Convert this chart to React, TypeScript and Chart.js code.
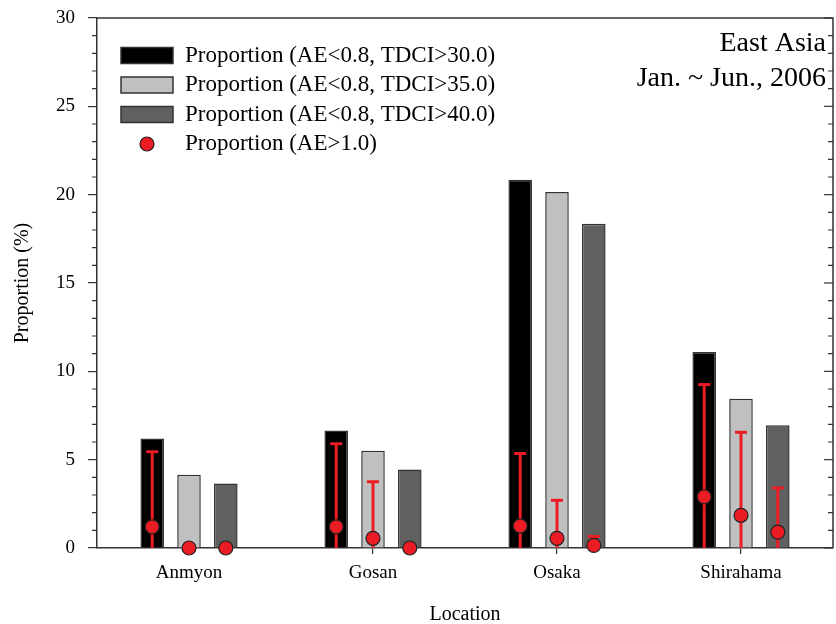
import React, { useEffect, useRef } from "react";
import { Chart, registerables } from "chart.js";

Chart.register(...registerables);

const categories = ["Anmyon", "Gosan", "Osaka", "Shirahama"];
const tdci30 = [6.2, 6.65, 20.85, 11.1];
const tdci35 = [4.15, 5.5, 20.15, 8.45];
const tdci40 = [3.65, 4.45, 18.35, 6.95];
const ae30 = [1.2, 1.2, 1.25, 2.9];
const ae30Err = [4.25, 4.7, 4.1, 6.35];
const ae35 = [0, 0.55, 0.55, 1.85];
const ae35Err = [0, 3.2, 2.15, 4.7];
const ae40 = [0, 0, 0.15, 0.9];
const ae40Err = [0, 0, 0.5, 2.5];
const yTicks = [0, 5, 10, 15, 20, 25, 30];
const legendLabels = [
  "Proportion (AE<0.8, TDCI>30.0)",
  "Proportion (AE<0.8, TDCI>35.0)",
  "Proportion (AE<0.8, TDCI>40.0)",
  "Proportion (AE>1.0)",
];
const titleLines = ["East Asia", "Jan. ~ Jun., 2006"];

const SERIF = "'Liberation Serif', 'Times New Roman', serif";
const AXIS = "#333333";
const RED = "#ec1c24";
const barColors = ["#000000", "#c0c0c0", "#606060"];

export default function App() {
  const ref = useRef<HTMLCanvasElement | null>(null);

  useEffect(() => {
    document.body.style.margin = "0";
    const canvas = ref.current;
    if (!canvas) return;
    Chart.defaults.font.family = SERIF;

    const pointSets = [
      { vals: ae30, errs: ae30Err },
      { vals: ae35, errs: ae35Err },
      { vals: ae40, errs: ae40Err },
    ];

    // red AE>1.0 points with error bars, placed on each bar's centre via the chart's own elements and y scale
    const aePoints = {
      id: "aePoints",
      afterDatasetsDraw(chart: any) {
        const ctx = chart.ctx;
        const y = chart.scales.y;
        const area = chart.chartArea;
        ctx.save();
        ctx.beginPath();
        ctx.rect(area.left, area.top, area.right - area.left, area.bottom - area.top);
        ctx.clip();
        ctx.strokeStyle = RED;
        ctx.lineWidth = 3;
        pointSets.forEach((p, i) => {
          const meta = chart.getDatasetMeta(i);
          meta.data.forEach((bar: any, j: number) => {
            const e = p.errs[j];
            if (!e) return;
            const v = p.vals[j];
            const yt = y.getPixelForValue(v + e);
            const yb = y.getPixelForValue(v - e);
            ctx.beginPath();
            ctx.moveTo(bar.x, yb);
            ctx.lineTo(bar.x, yt);
            ctx.stroke();
            ctx.beginPath();
            ctx.moveTo(bar.x - 6, yt);
            ctx.lineTo(bar.x + 6, yt);
            ctx.stroke();
          });
        });
        ctx.restore();
        ctx.save();
        pointSets.forEach((p, i) => {
          const meta = chart.getDatasetMeta(i);
          meta.data.forEach((bar: any, j: number) => {
            const py = y.getPixelForValue(p.vals[j]);
            ctx.beginPath();
            ctx.arc(bar.x, py, 7, 0, Math.PI * 2);
            ctx.fillStyle = RED;
            ctx.fill();
            ctx.strokeStyle = "#222";
            ctx.lineWidth = 1.2;
            ctx.stroke();
          });
        });
        ctx.restore();
      },
    };

    const frame = {
      id: "frame",
      afterDraw(chart: any) {
        const ctx = chart.ctx;
        const a = chart.chartArea;
        const y = chart.scales.y;
        ctx.save();
        ctx.strokeStyle = AXIS;
        ctx.lineWidth = 1.5;
        ctx.beginPath();
        ctx.moveTo(a.left, a.top);
        ctx.lineTo(a.right, a.top);
        ctx.lineTo(a.right, a.bottom);
        ctx.stroke();
        ctx.lineWidth = 1.2;
        for (let v = 0; v <= 30; v++) {
          const py = y.getPixelForValue(v);
          const major = v % 5 === 0;
          ctx.beginPath();
          if (!major) {
            ctx.moveTo(a.left - 5, py);
            ctx.lineTo(a.left, py);
          }
          ctx.moveTo(a.right - (major ? 9 : 5), py);
          ctx.lineTo(a.right, py);
          ctx.stroke();
        }
        // title
        ctx.fillStyle = "#000";
        ctx.font = `28px ${SERIF}`;
        ctx.textAlign = "right";
        ctx.textBaseline = "alphabetic";
        ctx.fillText(titleLines[0], 826, 51);
        ctx.fillText(titleLines[1], 826, 86);
        // legend
        ctx.font = `23px ${SERIF}`;
        ctx.textAlign = "left";
        ctx.textBaseline = "middle";
        const rows = [55.5, 85, 114.5, 144];
        rows.forEach((ry, i) => {
          if (i < 3) {
            ctx.fillStyle = barColors[i];
            ctx.fillRect(121, ry - 8, 52, 16);
            ctx.strokeStyle = AXIS;
            ctx.lineWidth = 1.5;
            ctx.strokeRect(121, ry - 8, 52, 16);
          } else {
            ctx.beginPath();
            ctx.arc(147, ry, 7, 0, Math.PI * 2);
            ctx.fillStyle = RED;
            ctx.fill();
            ctx.strokeStyle = "#222";
            ctx.lineWidth = 1.2;
            ctx.stroke();
          }
          ctx.fillStyle = "#000";
          ctx.fillText(legendLabels[i], 185, ry);
        });
        ctx.restore();
      },
    };

    const barSeries = [tdci30, tdci35, tdci40];
    const datasets: any[] = barSeries.map((d, i) => ({
      label: legendLabels[i],
      data: d,
      backgroundColor: barColors[i],
      borderColor: AXIS,
      borderWidth: 1.5,
      categoryPercentage: 0.6,
      barPercentage: 0.64,
    }));

    const chart = new Chart(canvas, {
      type: "bar",
      data: { labels: categories, datasets },
      options: {
        animation: false,
        responsive: false,
        events: [],
        layout: { padding: { top: 18, right: 3, left: 0, bottom: 0 } },
        plugins: { legend: { display: false }, tooltip: { enabled: false } },
        scales: {
          x: {
            type: "category",
            offset: true,
            grid: { drawOnChartArea: false, offset: false, tickLength: 6, color: AXIS, lineWidth: 1.2 },
            border: { display: true, color: AXIS, width: 1.5 },
            ticks: { color: "#000", font: { size: 19, family: SERIF }, padding: 8, maxRotation: 0 },
            title: { display: true, text: "Location", color: "#000", font: { size: 20, family: SERIF }, padding: { top: 0, bottom: -3 } },
            afterFit(scale: any) {
              scale.height = 76;
              scale.paddingLeft = 0;
              scale.paddingRight = 0;
            },
          },
          y: {
            min: 0,
            max: 30,
            afterBuildTicks(scale: any) {
              scale.ticks = yTicks.map((v) => ({ value: v }));
            },
            grid: { drawOnChartArea: false, tickLength: 9, color: AXIS, lineWidth: 1.2 },
            border: { display: true, color: AXIS, width: 1.5 },
            ticks: { color: "#000", font: { size: 19, family: SERIF }, padding: 13 },
            title: { display: true, text: "Proportion (%)", color: "#000", font: { size: 20, family: SERIF }, padding: { top: 11, bottom: 0 } },
            afterFit(scale: any) {
              scale.width = 97;
              scale.paddingTop = 0;
              scale.paddingBottom = 0;
            },
          },
        },
      },
      plugins: [aePoints, frame],
    } as any);

    return () => chart.destroy();
  }, []);

  return (
    <div style={{ width: 836, height: 624 }}>
      <canvas ref={ref} width={836} height={624} style={{ display: "block" }} />
    </div>
  );
}
